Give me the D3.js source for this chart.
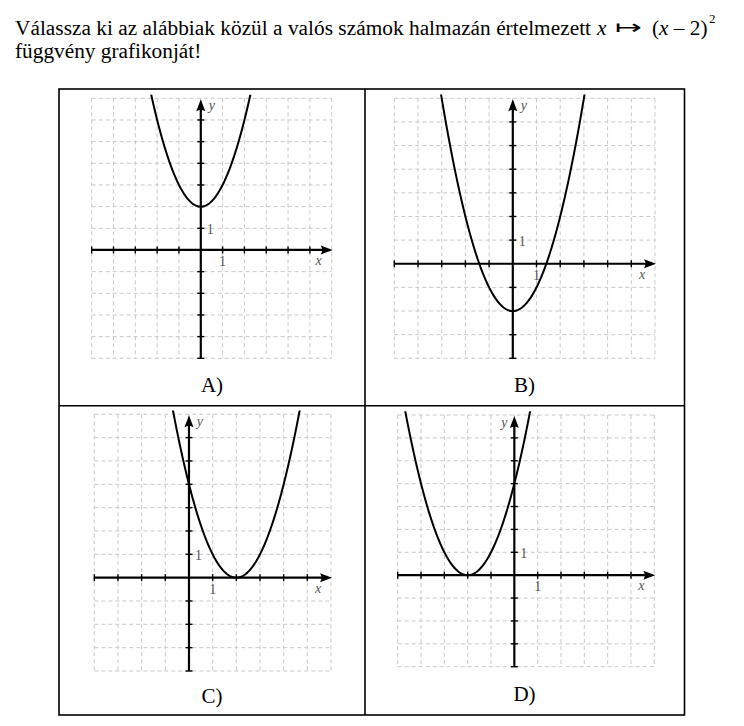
<!DOCTYPE html>
<html>
<head>
<meta charset="utf-8">
<script src="https://cdn.jsdelivr.net/npm/d3@7"></script>
<style>
  html, body { margin: 0; padding: 0; background: #fff; }
  svg { display: block; }
</style>
</head>
<body>
<svg id="chart" width="744" height="726"></svg>
<script>
// ---------------- data ----------------
const panelNames = ["A)", "B)", "C)", "D)"];
// parabola y = (x - vertexX)^2 + vertexY for each panel
const vertexX = [0, 0, 2, -2];
const vertexY = [2, -2, 0, 0];
// axis domains of each panel
const xMins = [-5, -5, -4, -5];
const xMaxs = [6, 6, 6, 6];
const yMins = [-5, -4, -4, -4];
const yMaxs = [7, 7, 7, 7];
const unitLabel = "1";
const axisNames = ["x", "y"];
const questionLine1 = "Válassza ki az alábbiak közül a valós számok halmazán értelmezett";
const questionLine2 = "függvény grafikonját!";

// ---------------- layout ----------------
const boxes = [ // grid pixel box: left, right, top, bottom
  {l: 91.7, r: 331.7, t: 98.3, b: 358.3},
  {l: 394.3, r: 655.0, t: 98.3, b: 358.3},
  {l: 94.3, r: 331.0, t: 414.3, b: 671.0},
  {l: 397.7, r: 654.3, t: 415.0, b: 666.7}
];
const yNameLeft = [false, false, false, true];
const labelPos = [{x: 212, y: 392}, {x: 524.5, y: 392}, {x: 212, y: 703}, {x: 524.5, y: 701}];

const svg = d3.select("#chart");
const serif = "Liberation Serif";
const FS = 21.3;

// ---------------- header ----------------
const head = svg.append("g").style("font-family", serif).attr("font-size", FS).attr("fill", "#000");
head.append("text").attr("x", 15).attr("y", 35).attr("textLength", 576).attr("lengthAdjust", "spacing")
  .text(questionLine1);
head.append("text").attr("x", 597).attr("y", 35).attr("font-style", "italic").text("x");
head.append("text").attr("x", 615).attr("y", 34).style("font-family", "DejaVu Sans").attr("font-size", 20)
  .attr("textLength", 27).attr("lengthAdjust", "spacingAndGlyphs").text("↦");
const f = head.append("text").attr("x", 652).attr("y", 35);
f.append("tspan").text("(");
f.append("tspan").attr("font-style", "italic").text("x");
f.append("tspan").text(" – 2)");
head.append("text").attr("x", 709).attr("y", 23).attr("font-size", 13).text("2");
head.append("text").attr("x", 15).attr("y", 58).text(questionLine2);

// ---------------- table frame ----------------
const T = {l: 59, r: 684.5, t: 89, m: 405.7, b: 715, c: 365};
const frame = svg.append("g").attr("stroke", "#000").attr("stroke-width", 1.6).attr("fill", "none");
frame.append("rect").attr("x", T.l).attr("y", T.t).attr("width", T.r - T.l).attr("height", T.b - T.t);
frame.append("line").attr("x1", T.c).attr("x2", T.c).attr("y1", T.t).attr("y2", T.b);
frame.append("line").attr("x1", T.l).attr("x2", T.r).attr("y1", T.m).attr("y2", T.m);

// ---------------- panels ----------------
const defs = svg.append("defs");

panelNames.forEach((name, i) => {
  const B = boxes[i];
  const sx = d3.scaleLinear().domain([xMins[i], xMaxs[i]]).range([B.l, B.r]);
  const sy = d3.scaleLinear().domain([yMins[i], yMaxs[i]]).range([B.b, B.t]);
  const g = svg.append("g");

  // grid
  const grid = g.append("g").attr("stroke", "#c9c9c9").attr("stroke-width", 1)
    .attr("stroke-dasharray", "4,3").attr("fill", "none");
  d3.range(xMins[i], xMaxs[i] + 1).forEach(v => {
    grid.append("line").attr("x1", sx(v)).attr("x2", sx(v)).attr("y1", B.t).attr("y2", B.b);
  });
  d3.range(yMins[i], yMaxs[i] + 1).forEach(v => {
    grid.append("line").attr("y1", sy(v)).attr("y2", sy(v)).attr("x1", B.l).attr("x2", B.r);
  });

  // axes
  const x0 = sx(0), y0 = sy(0);
  const ax = g.append("g").attr("stroke", "#000").attr("stroke-width", 2.2);
  ax.append("line").attr("x1", B.l).attr("x2", B.r - 6).attr("y1", y0).attr("y2", y0);
  ax.append("line").attr("x1", x0).attr("x2", x0).attr("y1", B.b).attr("y2", B.t + 6);
  // ticks
  d3.range(xMins[i], xMaxs[i]).filter(v => v !== 0).forEach(v => {
    ax.append("line").attr("x1", sx(v)).attr("x2", sx(v)).attr("y1", y0 - 3.5).attr("y2", y0 + 3.5)
      .attr("stroke-width", 1.4);
  });
  d3.range(yMins[i], yMaxs[i]).filter(v => v !== 0).forEach(v => {
    ax.append("line").attr("y1", sy(v)).attr("y2", sy(v)).attr("x1", x0 - 3.5).attr("x2", x0 + 3.5)
      .attr("stroke-width", 1.4);
  });
  // arrowheads
  const xt = sx(xMaxs[i]) + 1, yt = sy(yMaxs[i]) + 1;
  g.append("path").attr("fill", "#000")
    .attr("d", `M${xt},${y0} L${xt - 12},${y0 - 4.5} Q${xt - 9},${y0} ${xt - 12},${y0 + 4.5} Z`);
  g.append("path").attr("fill", "#000")
    .attr("d", `M${x0},${yt} L${x0 - 4.5},${yt + 12} Q${x0},${yt + 9} ${x0 + 4.5},${yt + 12} Z`);

  // labels
  const lab = g.append("g").style("font-family", serif).attr("fill", "#555").attr("font-size", 14);
  lab.append("text").attr("x", sx(1)).attr("y", y0 + 16).attr("text-anchor", "middle").text(unitLabel);
  lab.append("text").attr("x", x0 + 6).attr("y", sy(1) + 5.5).text(unitLabel);
  lab.append("text").attr("x", sx(xMaxs[i]) - 13).attr("y", y0 + 15).attr("text-anchor", "middle")
    .attr("font-style", "italic").text(axisNames[0]);
  lab.append("text").attr("x", yNameLeft[i] ? x0 - 10 : x0 + 11).attr("y", sy(yMaxs[i]) + 12)
    .attr("text-anchor", "middle").attr("font-style", "italic").text(axisNames[1]);

  // curve
  const cid = "clip" + i;
  defs.append("clipPath").attr("id", cid).append("rect")
    .attr("x", B.l).attr("width", B.r - B.l)
    .attr("y", sy(yMaxs[i] + 0.16)).attr("height", B.b - sy(yMaxs[i] + 0.16));
  const xs = d3.range(xMins[i], xMaxs[i] + 0.001, 0.02);
  const line = d3.line().x(d => sx(d)).y(d => sy((d - vertexX[i]) ** 2 + vertexY[i]));
  g.append("path").attr("clip-path", `url(#${cid})`).attr("fill", "none")
    .attr("stroke", "#000").attr("stroke-width", 2).attr("d", line(xs));

  // panel label
  svg.append("text").attr("x", labelPos[i].x).attr("y", labelPos[i].y).attr("text-anchor", "middle")
    .style("font-family", serif).attr("font-size", 21).attr("fill", "#000").text(name);
});
</script>
</body>
</html>
